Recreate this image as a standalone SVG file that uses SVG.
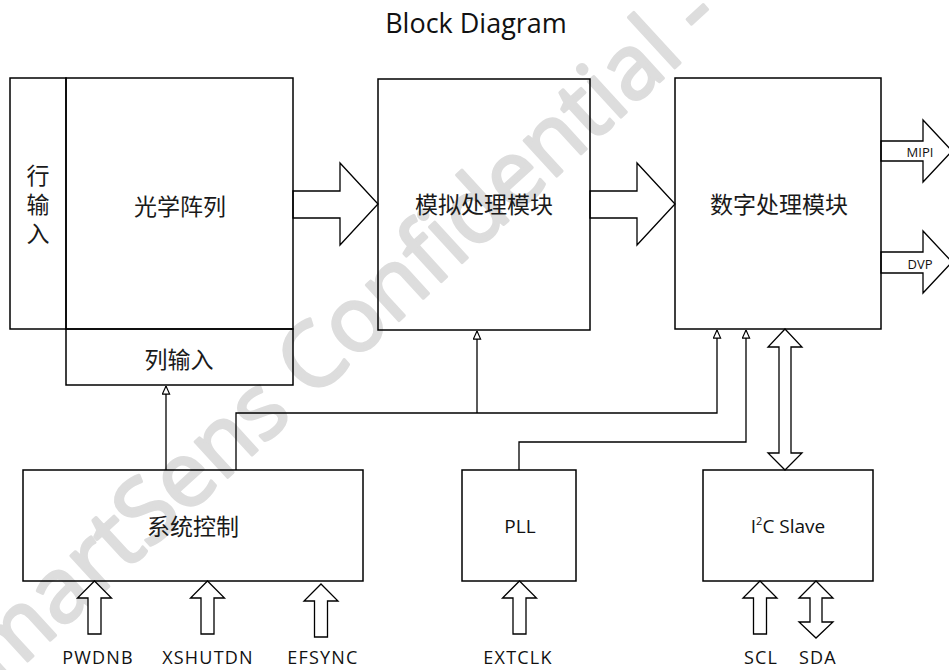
<svg xmlns="http://www.w3.org/2000/svg" width="949" height="670" viewBox="0 0 949 670">
<style>
.box{fill:none;stroke:#000;stroke-width:1.5}
.big{fill:#fff;stroke:#000;stroke-width:1.3;stroke-linejoin:miter}
.wire{fill:none;stroke:#000;stroke-width:1.3}
.cn{font-family:"Noto Sans CJK SC","Noto Sans",sans-serif;font-size:23px;fill:#1a1a1a;text-anchor:middle}
.en{font-family:"Open Sans","Noto Sans",sans-serif;fill:#111;text-anchor:middle}
.pin{font-size:18px;letter-spacing:1.2px}
.wm{font-family:"Open Sans","Noto Sans",sans-serif;font-size:90px;font-weight:400;fill:#dddddd;stroke:#dddddd;stroke-width:3;stroke-linejoin:round}
</style>
<defs>
<marker id="tri" viewBox="0 0 10 10" refX="10" refY="5" markerWidth="9" markerHeight="9" markerUnits="userSpaceOnUse" orient="auto">
<path d="M1,1 L10,5 L1,9 z" fill="#fff" stroke="#000" stroke-width="1.3"/>
</marker>
</defs>
<rect width="949" height="670" fill="#fff"/>
<text class="wm" transform="translate(-37,720) rotate(-42.5)">SmartSens Confidential -</text>
<text class="en" x="476" y="33" font-size="27">Block Diagram</text>

<g id="connectors">
<polygon class="big" points="293,191 340,191 340,163 378,204 340,245 340,218 293,218"/>
<polygon class="big" points="590,191 637,191 637,163 675,204 637,245 637,218 590,218"/>
<polygon class="big" points="881,141 923,141 923,120 952,151 923,182 923,161 881,161"/>
<polygon class="big" points="881,252 923,252 923,231 952,262 923,293 923,273 881,273"/>
<polygon class="big" points="785,329 802,347 791,347 791,453 802,453 785,470 768,453 779,453 779,347 768,347"/>
<polygon class="big" points="94.5,581 111.5,598 101,598 101,634 88,634 88,598 77.5,598"/>
<polygon class="big" points="207.5,581 224.5,598 214,598 214,634 201,634 201,598 190.5,598"/>
<polygon class="big" points="321,584 338,601 327.5,601 327.5,637 314.5,637 314.5,601 304,601"/>
<polygon class="big" points="519.5,581 536.5,598 526,598 526,634 513,634 513,598 502.5,598"/>
<polygon class="big" points="760,581 777,598 766.5,598 766.5,634 753.5,634 753.5,598 743,598"/>
<polygon class="big" points="816,581 833,598 822,598 822,622 833,622 816,638 799,622 810,622 810,598 799,598"/>
<path class="wire" d="M166,470 V386" marker-end="url(#tri)"/>
<path class="wire" d="M236,470 V413 H717 V330" marker-end="url(#tri)"/>
<path class="wire" d="M477,413 V331" marker-end="url(#tri)"/>
<path class="wire" d="M519,470 V442 H746 V330" marker-end="url(#tri)"/>
</g>

<g id="row-input">
<rect class="box" x="10" y="78" width="56" height="251"/>
<text class="cn" x="38" y="207" style="writing-mode:vertical-rl" letter-spacing="6">行输入</text>
</g>
<g id="pixel-array">
<rect class="box" x="66" y="78" width="227" height="251"/>
<text class="cn" x="180" y="215">光学阵列</text>
</g>
<g id="column-input">
<rect class="box" x="66" y="329" width="227" height="56"/>
<text class="cn" x="179" y="368">列输入</text>
</g>
<g id="analog">
<rect class="box" x="378" y="79" width="212" height="251"/>
<text class="cn" x="484" y="213">模拟处理模块</text>
</g>
<g id="digital">
<rect class="box" x="675" y="78" width="206" height="251"/>
<text class="cn" x="779" y="213">数字处理模块</text>
</g>
<g id="sysctrl">
<rect class="box" x="23" y="470" width="340" height="111"/>
<text class="cn" x="193" y="535">系统控制</text>
</g>
<g id="pll">
<rect class="box" x="462" y="470" width="114" height="111"/>
<text class="en" x="520" y="533" font-size="19">PLL</text>
</g>
<g id="i2c">
<rect class="box" x="703" y="470" width="170" height="111"/>
<text class="en" x="788" y="533" font-size="19">I<tspan font-size="11" dy="-8">2</tspan><tspan dy="8">C Slave</tspan></text>
</g>
<g id="labels">
<text class="en" x="920" y="157" font-size="13">MIPI</text>
<text class="en" x="920" y="269" font-size="13">DVP</text>
<text class="en pin" x="98" y="664">PWDNB</text>
<text class="en pin" x="208" y="664">XSHUTDN</text>
<text class="en pin" x="323" y="664">EFSYNC</text>
<text class="en pin" x="518" y="664">EXTCLK</text>
<text class="en pin" x="761" y="664">SCL</text>
<text class="en pin" x="818" y="664">SDA</text>
</g>
</svg>
